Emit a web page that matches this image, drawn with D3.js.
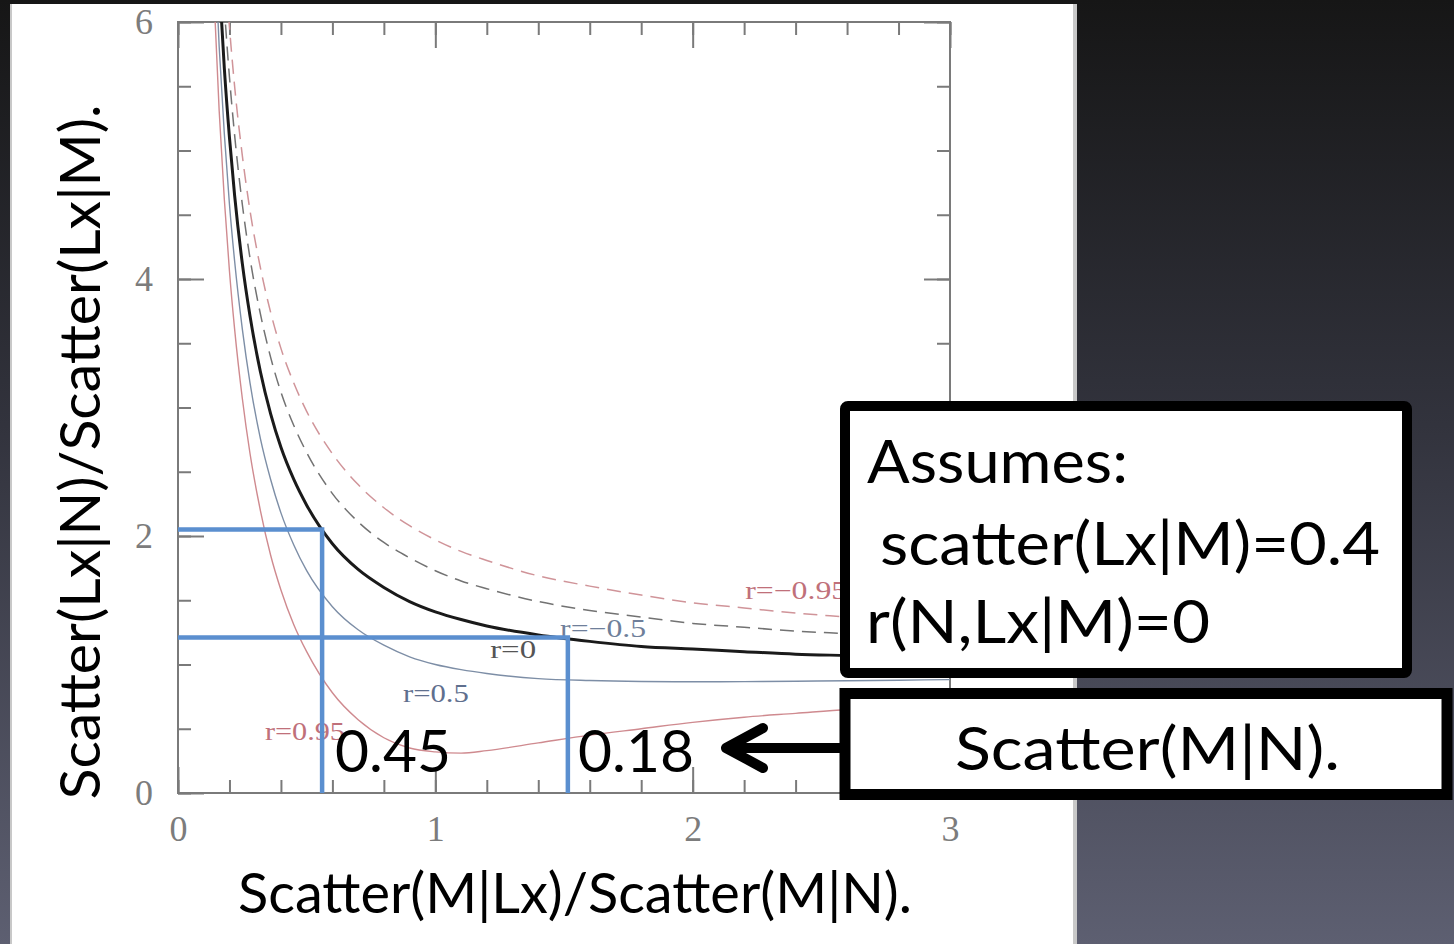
<!DOCTYPE html>
<html>
<head>
<meta charset="utf-8">
<script src="https://cdn.jsdelivr.net/npm/d3@7"></script>
<style>
  html, body { margin: 0; padding: 0; background: #1a1a1a; }
  svg { display: block; }
</style>
</head>
<body>
<svg id="chart" width="1454" height="944"></svg>
<script>
// sample points along x, and curve values
const xs = [0.14, 0.16, 0.18, 0.2, 0.22, 0.25, 0.28, 0.32, 0.36, 0.4, 0.45, 0.5, 0.6, 0.7, 0.8, 0.9, 1.0, 1.1, 1.2, 1.4, 1.6, 1.8, 2.0, 2.2, 2.4, 2.6, 2.8, 3.0];
const yR095 = [6.20, 5.31, 4.62, 4.06, 3.61, 3.07, 2.64, 2.20, 1.85, 1.58, 1.31, 1.10, 0.78, 0.57, 0.43, 0.35, 0.32, 0.31, 0.33, 0.39, 0.45, 0.50, 0.55, 0.59, 0.62, 0.65, 0.67, 0.69];
const yR05 = [6.70, 5.81, 5.13, 4.58, 4.14, 3.61, 3.19, 2.76, 2.44, 2.18, 1.93, 1.73, 1.45, 1.27, 1.15, 1.06, 1.00, 0.96, 0.93, 0.89, 0.875, 0.868, 0.866, 0.867, 0.870, 0.874, 0.878, 0.882];
const yR0 = [7.21, 6.33, 5.64, 5.10, 4.65, 4.12, 3.71, 3.28, 2.95, 2.69, 2.44, 2.24, 1.94, 1.74, 1.60, 1.49, 1.41, 1.35, 1.30, 1.23, 1.18, 1.14, 1.12, 1.10, 1.08, 1.07, 1.06, 1.05];
const yRm05 = [7.69, 6.81, 6.12, 5.57, 5.12, 4.58, 4.16, 3.73, 3.39, 3.12, 2.86, 2.65, 2.33, 2.11, 1.95, 1.83, 1.73, 1.65, 1.59, 1.49, 1.42, 1.37, 1.32, 1.29, 1.26, 1.24, 1.22, 1.20];
const yRm095 = [8.10, 7.21, 6.51, 5.96, 5.50, 4.96, 4.53, 4.09, 3.74, 3.46, 3.19, 2.97, 2.64, 2.40, 2.22, 2.08, 1.97, 1.88, 1.81, 1.69, 1.61, 1.54, 1.48, 1.44, 1.40, 1.37, 1.34, 1.32];

const seriesNames = ["r=0.95", "r=0.5", "r=0", "r=\u22120.5", "r=\u22120.95"];

// tick values
const xMajor = [0, 1, 2, 3];
const xMinor = d3.range(0, 3.001, 0.2);
const yMajor = [0, 2, 4, 6];
const yMinor = d3.range(0, 6.001, 0.5);

// the two read-off guides (blue lines) and their labels
const guideX = [0.56, 1.515];
const guideY = [2.05, 1.21];
const guideLabels = ["0.45", "0.18"];

const xTitle = "Scatter(M|Lx)/Scatter(M|N).";
const yTitle = "Scatter(Lx|N)/Scatter(Lx|M).";
const noteLines = ["Assumes:", "scatter(Lx|M)=0.4", "r(N,Lx|M)=0"];
const arrowNote = "Scatter(M|N).";

const svg = d3.select("#chart");
const W = 1454, H = 944;

// slide background
const defs = svg.append("defs");
const grad = defs.append("linearGradient").attr("id", "bg").attr("x1", 0).attr("y1", 0).attr("x2", 0).attr("y2", 1);
grad.append("stop").attr("offset", "0%").attr("stop-color", "#161616");
grad.append("stop").attr("offset", "45%").attr("stop-color", "#32333d");
grad.append("stop").attr("offset", "100%").attr("stop-color", "#5d5f71");
svg.append("rect").attr("width", W).attr("height", H).attr("fill", "url(#bg)");

// white picture panel
svg.append("rect").attr("x", 10).attr("y", 4).attr("width", 1067).attr("height", H)
  .attr("fill", "#c8c8c8");
svg.append("rect").attr("x", 12).attr("y", 4).attr("width", 1061).attr("height", H)
  .attr("fill", "#ffffff");

const x = d3.scaleLinear().domain([0, 3]).range([178, 950]);
const y = d3.scaleLinear().domain([0, 6]).range([793, 22]);

defs.append("clipPath").attr("id", "frame")
  .append("rect").attr("x", x(0)).attr("y", y(6)).attr("width", x(3) - x(0)).attr("height", y(0) - y(6));

const tickColor = "#7a7a7a";
function styleAxis(g) {
  g.select(".domain").remove();
  g.selectAll(".tick line").attr("stroke", tickColor).attr("stroke-width", 2);
  g.selectAll(".tick text").attr("fill", "#7c7c7c")
    .attr("font-family", "'Liberation Serif', 'DejaVu Serif', serif").attr("font-size", 36);
}

// minor ticks on all four sides (pointing inward)
svg.append("g").attr("transform", `translate(0,${y(0)})`)
  .call(d3.axisBottom(x).tickValues(xMinor).tickSize(-13).tickFormat("")).call(styleAxis);
svg.append("g").attr("transform", `translate(0,${y(6)})`)
  .call(d3.axisTop(x).tickValues(xMinor).tickSize(-13).tickFormat("")).call(styleAxis);
svg.append("g").attr("transform", `translate(${x(0)},0)`)
  .call(d3.axisLeft(y).tickValues(yMinor).tickSize(-13).tickFormat("")).call(styleAxis);
svg.append("g").attr("transform", `translate(${x(3)},0)`)
  .call(d3.axisRight(y).tickValues(yMinor).tickSize(-13).tickFormat("")).call(styleAxis);

// major ticks with labels
svg.append("g").attr("transform", `translate(0,${y(0)})`)
  .call(d3.axisBottom(x).tickValues(xMajor).tickSize(-26).tickPadding(22).tickFormat(d3.format("d"))).call(styleAxis);
svg.append("g").attr("transform", `translate(0,${y(6)})`)
  .call(d3.axisTop(x).tickValues(xMajor).tickSize(-26).tickFormat("")).call(styleAxis);
svg.append("g").attr("transform", `translate(${x(0)},0)`)
  .call(d3.axisLeft(y).tickValues(yMajor).tickSize(-26).tickPadding(25).tickFormat(d3.format("d"))).call(styleAxis);
svg.append("g").attr("transform", `translate(${x(3)},0)`)
  .call(d3.axisRight(y).tickValues(yMajor).tickSize(-26).tickFormat("")).call(styleAxis);

// frame
svg.append("rect").attr("x", x(0)).attr("y", y(6)).attr("width", x(3) - x(0)).attr("height", y(0) - y(6))
  .attr("fill", "none").attr("stroke", tickColor).attr("stroke-width", 2);

// curves
const series = [
  { name: seriesNames[0], values: yR095, color: "#cf8a8f", width: 1.4, dash: null },
  { name: seriesNames[1], values: yR05, color: "#7d8ea6", width: 1.4, dash: null },
  { name: seriesNames[2], values: yR0, color: "#1a1a1a", width: 3, dash: null },
  { name: seriesNames[3], values: yRm05, color: "#727272", width: 1.5, dash: "14,8" },
  { name: seriesNames[4], values: yRm095, color: "#d09499", width: 1.5, dash: "14,8" }
];
const line = d3.line().x(d => x(d[0])).y(d => y(d[1])).curve(d3.curveMonotoneX);

svg.append("g").attr("clip-path", "url(#frame)")
  .selectAll("path").data(series).join("path")
  .attr("d", s => line(xs.map((v, i) => [v, s.values[i]])))
  .attr("fill", "none")
  .attr("stroke", s => s.color)
  .attr("stroke-width", s => s.width)
  .attr("stroke-dasharray", s => s.dash);

// curve labels
const curveLabels = [
  { text: seriesNames[0], at: [0.338, 0.48], color: "#c0707a", w: 80 },
  { text: seriesNames[1], at: [0.874, 0.78], color: "#5f6f8e", w: 66 },
  { text: seriesNames[2], at: [1.213, 1.12], color: "#555555", w: 46 },
  { text: seriesNames[3], at: [1.485, 1.28], color: "#6f7f9a", w: 86 },
  { text: seriesNames[4], at: [2.204, 1.58], color: "#c0707a", w: 102 }
];
svg.append("g").selectAll("text").data(curveLabels).join("text")
  .attr("x", d => x(d.at[0])).attr("y", d => y(d.at[1]))
  .attr("dy", "0.35em")
  .attr("fill", d => d.color)
  .attr("font-family", "'Liberation Serif', 'DejaVu Serif', serif")
  .attr("font-size", 25)
  .attr("textLength", d => d.w).attr("lengthAdjust", "spacingAndGlyphs")
  .text(d => d.text);

// blue guide lines
const blue = "#5b8fcf";
const guides = svg.append("g").attr("fill", "none").attr("stroke", blue).attr("stroke-width", 4.5);
guideX.forEach((gx, i) => {
  guides.append("path")
    .attr("d", `M${x(0)},${y(guideY[i])}H${x(gx)}V${y(0)}`);
});

const sans = "Lato, 'Open Sans', sans-serif";
// guide value labels
const guideTextX = [335, 578];
svg.append("g").selectAll("text").data(guideLabels).join("text")
  .attr("x", (d, i) => guideTextX[i]).attr("y", 772)
  .attr("font-family", sans).attr("font-size", 58).attr("fill", "#000")
  .attr("textLength", 116).attr("lengthAdjust", "spacingAndGlyphs")
  .text(d => d);

// axis titles
svg.append("text").attr("x", 575).attr("y", 913).attr("text-anchor", "middle")
  .attr("font-family", sans).attr("font-size", 57).attr("fill", "#000")
  .attr("textLength", 674).attr("lengthAdjust", "spacingAndGlyphs")
  .text(xTitle);
svg.append("text").attr("transform", "translate(100,452) rotate(-90)").attr("text-anchor", "middle")
  .attr("font-family", sans).attr("font-size", 57).attr("fill", "#000")
  .attr("textLength", 695).attr("lengthAdjust", "spacingAndGlyphs")
  .text(yTitle);

// arrow pointing at the 0.18 label
const arrow = svg.append("g").attr("stroke", "#000").attr("fill", "none")
  .attr("stroke-width", 10).attr("stroke-linecap", "round").attr("stroke-linejoin", "round");
arrow.append("path").attr("d", "M845,748H730");
arrow.append("path").attr("d", "M763,728L726,748L763,768");

// note boxes
svg.append("rect").attr("x", 845).attr("y", 406).attr("width", 562).attr("height", 267)
  .attr("fill", "#fff").attr("stroke", "#000").attr("stroke-width", 10).attr("rx", 3);
svg.append("rect").attr("x", 845).attr("y", 693.5).attr("width", 602).attr("height", 101)
  .attr("fill", "#fff").attr("stroke", "#000").attr("stroke-width", 11);

const noteX = [867, 880, 866];
const noteY = [483, 565, 643];
const noteW = [261, 500, 344];
svg.append("g").selectAll("text").data(noteLines).join("text")
  .attr("x", (d, i) => noteX[i]).attr("y", (d, i) => noteY[i])
  .attr("font-family", sans).attr("font-size", 60).attr("fill", "#000")
  .attr("textLength", (d, i) => noteW[i]).attr("lengthAdjust", "spacingAndGlyphs")
  .text(d => d);

svg.append("text").attr("x", 955).attr("y", 770)
  .attr("font-family", sans).attr("font-size", 60).attr("fill", "#000")
  .attr("textLength", 385).attr("lengthAdjust", "spacingAndGlyphs")
  .text(arrowNote);
</script>
</body>
</html>
